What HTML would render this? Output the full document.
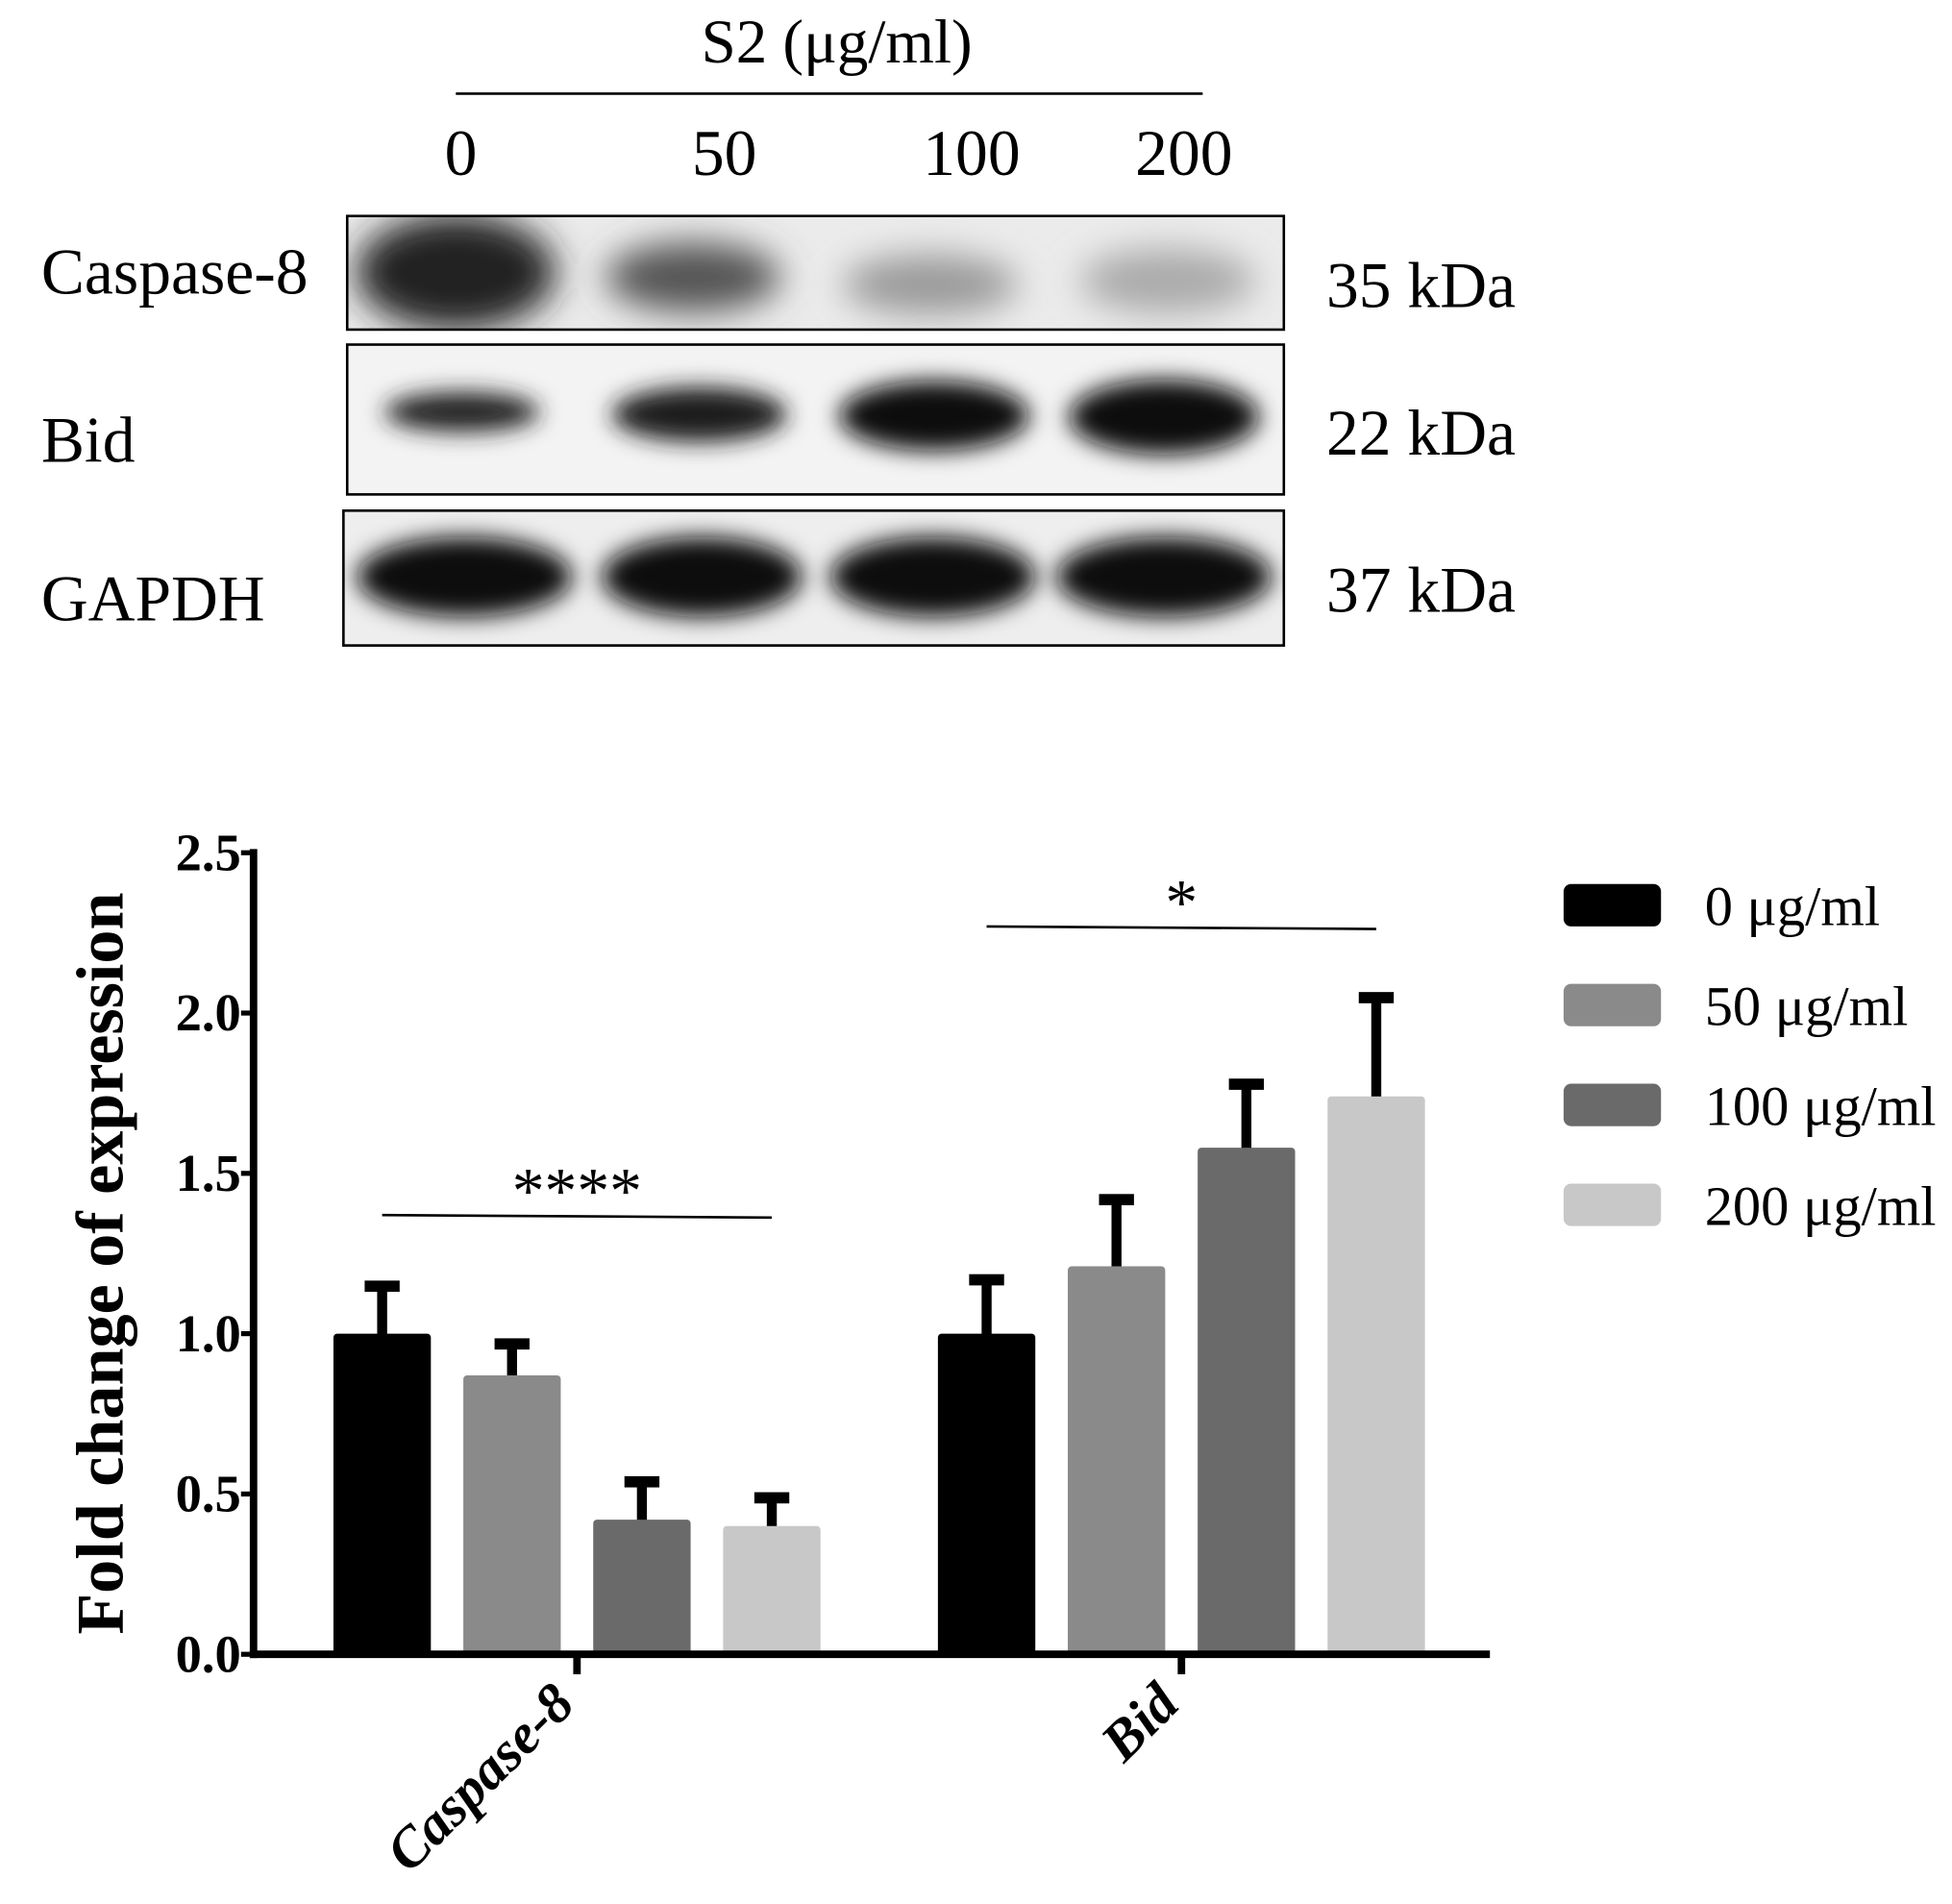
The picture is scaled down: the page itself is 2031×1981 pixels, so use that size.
<!DOCTYPE html>
<html><head><meta charset="utf-8"><style>
html,body{margin:0;padding:0;background:#fff;}
svg{display:block;}
text{font-family:"Liberation Serif",serif;}
</style></head><body>
<svg id="fig" width="2031" height="1981" viewBox="0 0 1563 1525" preserveAspectRatio="none" xmlns="http://www.w3.org/2000/svg">
<defs>
<filter id="blur" x="-20%" y="-40%" width="140%" height="180%"><feGaussianBlur stdDeviation="9"/></filter>
<filter id="blur2" x="-20%" y="-40%" width="140%" height="180%"><feGaussianBlur stdDeviation="14"/></filter>
<clipPath id="c1"><rect x="278" y="173" width="750" height="91"/></clipPath>
<clipPath id="c2"><rect x="278" y="276" width="750" height="120"/></clipPath>
<clipPath id="c3"><rect x="275" y="409" width="753" height="108"/></clipPath>
</defs>
<g>
<text x="670" y="50" font-size="50" text-anchor="middle">S2 (μg/ml)</text>
<line x1="365" y1="75" x2="963" y2="75" stroke="#000" stroke-width="2"/>
<text x="369" y="140" font-size="52" text-anchor="middle">0</text>
<text x="580" y="140" font-size="52" text-anchor="middle">50</text>
<text x="778" y="140" font-size="52" text-anchor="middle">100</text>
<text x="948" y="140" font-size="52" text-anchor="middle">200</text>

<text x="33" y="235" font-size="52">Caspase-8</text>
<text x="33" y="370" font-size="52">Bid</text>
<text x="33" y="497" font-size="52">GAPDH</text>
<text x="1062" y="246" font-size="52">35 kDa</text>
<text x="1062" y="364" font-size="52">22 kDa</text>
<text x="1062" y="490" font-size="52">37 kDa</text>

<g>
<rect x="278" y="173" width="750" height="91" fill="#ebebeb"/>
<g filter="url(#blur2)" clip-path="url(#c1)">
<ellipse cx="365" cy="218" rx="80" ry="46" fill="#222"/>
<ellipse cx="555" cy="222" rx="70" ry="28" fill="#555"/>
<ellipse cx="745" cy="228" rx="70" ry="24" fill="#9a9a9a"/>
<ellipse cx="935" cy="225" rx="70" ry="26" fill="#aaa"/>
</g>
<rect x="278" y="173" width="750" height="91" fill="none" stroke="#000" stroke-width="2"/>
</g>
<g>
<rect x="278" y="276" width="750" height="120" fill="#f3f3f3"/>
<g filter="url(#blur)" clip-path="url(#c2)">
<ellipse cx="370" cy="330" rx="62" ry="16" fill="#222"/>
<ellipse cx="560" cy="332" rx="70" ry="22" fill="#1a1a1a"/>
<ellipse cx="748" cy="333" rx="76" ry="28" fill="#0e0e0e"/>
<ellipse cx="932" cy="334" rx="76" ry="30" fill="#0e0e0e"/>
</g>
<rect x="278" y="276" width="750" height="120" fill="none" stroke="#000" stroke-width="2"/>
</g>
<g>
<rect x="275" y="409" width="753" height="108" fill="#eeeeee"/>
<g filter="url(#blur)" clip-path="url(#c3)">
<ellipse cx="372" cy="462" rx="86" ry="32" fill="#0e0e0e"/>
<ellipse cx="562" cy="462" rx="80" ry="32" fill="#0e0e0e"/>
<ellipse cx="747" cy="462" rx="82" ry="32" fill="#0e0e0e"/>
<ellipse cx="932" cy="462" rx="86" ry="32" fill="#0e0e0e"/>
</g>
<rect x="275" y="409" width="753" height="108" fill="none" stroke="#000" stroke-width="2"/>
</g>
</g>

<g id="chart"></g>
</svg>
<script>
const categories = ["Caspase-8", "Bid"];
const seriesNames = ["0 μg/ml", "50 μg/ml", "100 μg/ml", "200 μg/ml"];
const values0 = [1.0, 1.0];
const values50 = [0.87, 1.21];
const values100 = [0.42, 1.58];
const values200 = [0.40, 1.74];
const err0 = [0.15, 0.17];
const err50 = [0.10, 0.21];
const err100 = [0.12, 0.20];
const err200 = [0.09, 0.31];
const yTicks = ["0.0", "0.5", "1.0", "1.5", "2.0", "2.5"];
const sigLabels = ["****", "*"];

const NS = "http://www.w3.org/2000/svg";
const g = document.getElementById("chart");
const colors = ["#000000", "#8a8a8a", "#6a6a6a", "#c8c8c8"];
const allVals = [values0, values50, values100, values200];
const allErr = [err0, err50, err100, err200];
const x0 = 203, x1 = 1193, yZero = 1325, yTop = 683, yMax = 2.5;
function yScale(v){ return yZero - (v / yMax) * (yZero - yTop); }
const groupCenters = [462, 946];
const barW = 78, barStep = 104;
function barX(ci, si){ return groupCenters[ci] + (si - 1.5) * barStep - barW/2; }
function mk(tag, attrs){ const e = document.createElementNS(NS, tag); for (const k in attrs) e.setAttribute(k, attrs[k]); g.appendChild(e); return e; }

for (let si = 0; si < allVals.length; si++) {
  for (let ci = 0; ci < categories.length; ci++) {
    const v = allVals[si][ci], er = allErr[si][ci];
    const bx = barX(ci, si), by = yScale(v);
    const cx = bx + barW/2, ty = yScale(v + er);
    const eb = mk("rect", {x: cx - 4, y: ty, width: 8, height: by - ty + 6, fill: "#000"});
    
    
    const cap = mk("rect", {x: cx - 14, y: ty - 4, width: 28, height: 9, fill: "#000"});
    
    
    const r = mk("rect", {x: bx, y: by, width: barW, height: yZero - by, fill: colors[si], rx: 3});
    
    
  }
}

const ya = mk("line", {x1: x0, y1: yTop - 3, x2: x0, y2: yZero + 3, stroke: "#000", "stroke-width": 6});


const xa = mk("line", {x1: x0 - 3, y1: yZero, x2: x1, y2: yZero, stroke: "#000", "stroke-width": 6});


yTicks.forEach((t) => {
  const y = yScale(parseFloat(t));
  const tk = mk("line", {x1: x0 - 10, y1: y, x2: x0, y2: y, stroke: "#000", "stroke-width": 4});
  
  
  const tl = mk("text", {x: x0 - 10, y: y + 14, "font-size": 42, "font-weight": "bold", "text-anchor": "end"});
  tl.textContent = t;
  
  
});
categories.forEach((c, ci) => {
  const x = groupCenters[ci];
  const tk = mk("line", {x1: x, y1: yZero, x2: x, y2: yZero + 16, stroke: "#000", "stroke-width": 6});
  
  
  const tl = mk("text", {x: x, y: yZero + 42, "font-size": 45, "font-weight": "bold", "font-style": "italic", "text-anchor": "end", transform: "rotate(-45 " + x + " " + (yZero + 42) + ")"});
  tl.textContent = c;
  
  
});
const yt = mk("text", {x: 0, y: 0, "font-size": 54, "font-weight": "bold", "text-anchor": "middle", transform: "translate(98 1012) rotate(-90)"});
yt.textContent = "Fold change of expression";



const sigY = [1.37, 2.27];
categories.forEach((c, ci) => {
  const xa1 = barX(ci, 0) + barW/2, xa2 = barX(ci, 3) + barW/2;
  const y = yScale(sigY[ci]);
  const l = mk("line", {x1: xa1, y1: y, x2: xa2, y2: y + 2, stroke: "#000", "stroke-width": 2});
  
  
  const t = mk("text", {x: (xa1 + xa2) / 2, y: y - 2, "font-size": 52, "text-anchor": "middle"});
  t.textContent = sigLabels[ci];
  
  
});

seriesNames.forEach((n, si) => {
  const cy = 725 + si * 80;
  const sw = mk("rect", {x: 1252, y: cy - 17, width: 78, height: 34, rx: 6, fill: colors[si]});
  
  
  const t = mk("text", {x: 1365, y: cy + 16, "font-size": 45});
  t.textContent = n;
  
  
});
</script>
</body></html>
